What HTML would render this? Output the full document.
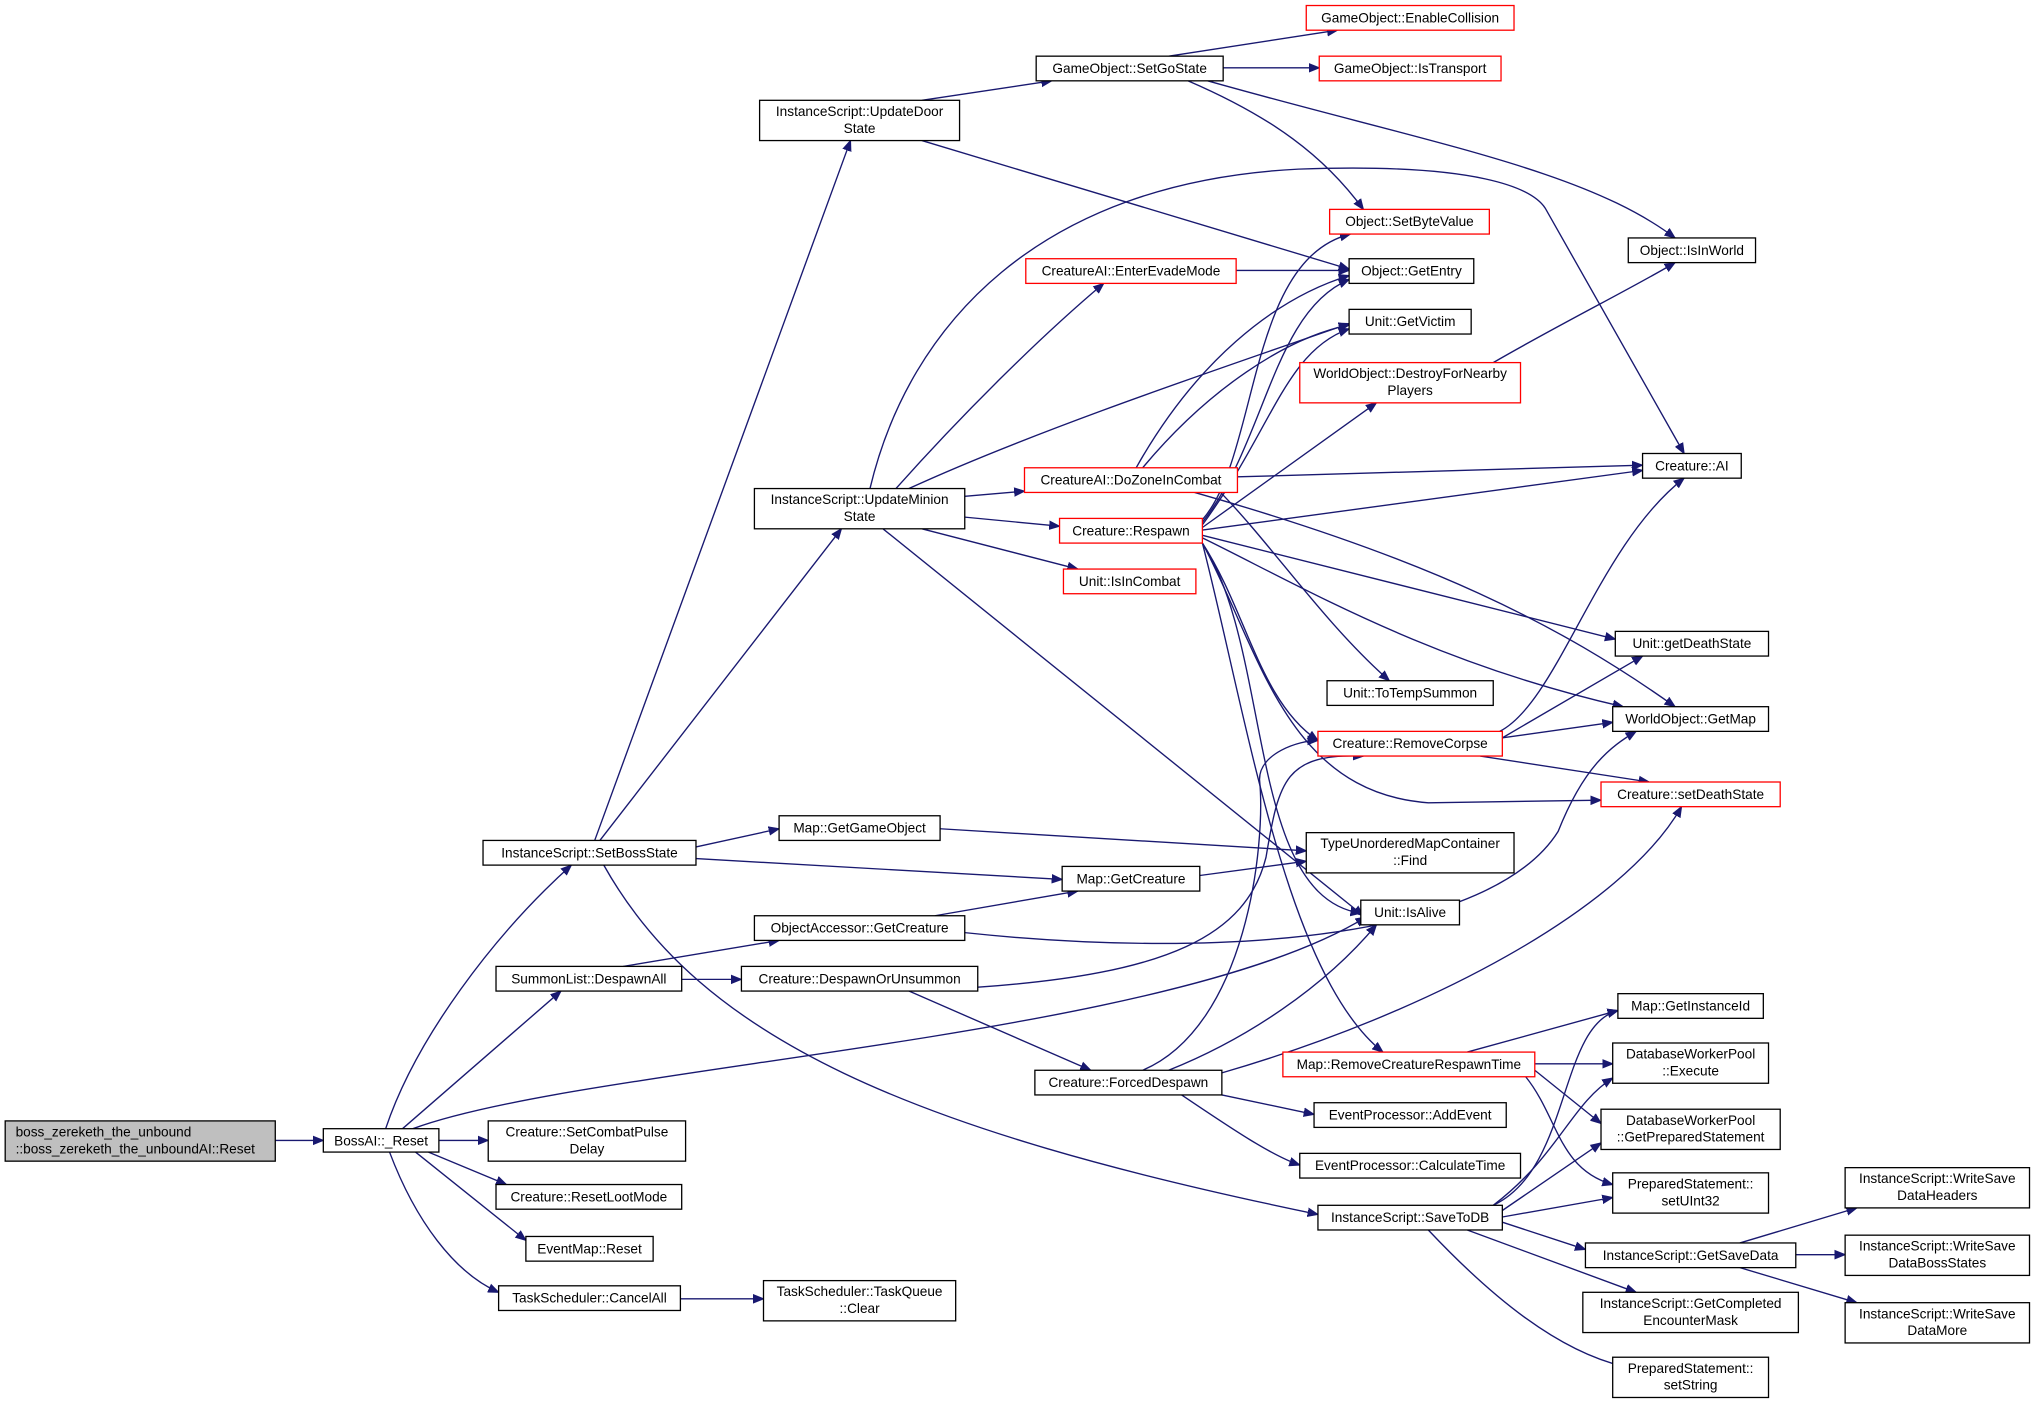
<!DOCTYPE html>
<html><head><meta charset="utf-8"><style>
html,body{margin:0;padding:0;background:#fff}
svg{display:block}
text{font-family:"Liberation Sans","DejaVu Sans",sans-serif;font-size:10.5px;fill:#000}
.n{fill:#fff;stroke:#000;stroke-width:1}
.r{fill:#fff;stroke:#ff0000;stroke-width:1}
.g{fill:#bfbfbf;stroke:#000;stroke-width:1}
path{fill:none;stroke:#191970;stroke-width:1.05;marker-end:url(#a)}
</style></head><body>
<svg width="2036" height="1403" viewBox="0 0 1568 1080" xmlns="http://www.w3.org/2000/svg">
<defs><marker id="a" viewBox="0 0 10 10" refX="10" refY="5" markerWidth="8" markerHeight="8" orient="auto" markerUnits="userSpaceOnUse"><path d="M0,1 L10,5 L0,9 z" style="fill:#191970;stroke:#191970;marker-end:none"/></marker></defs>
<g>
<path d="M212,878 L249,878"/>
<path d="M297,869 C320,800 380,720 440,666"/>
<path d="M310,869 L432,763"/>
<path d="M338,878 L376,878"/>
<path d="M330,887 L390,912"/>
<path d="M320,887 L405,955"/>
<path d="M300,887 C320,940 350,980 384,995"/>
<path d="M318,869 C450,820 900,800 1052,706"/>
<path d="M524,1000 L588,1000"/>
<path d="M458,647 L655,108"/>
<path d="M462,647 L648,407"/>
<path d="M536,652 L600,638"/>
<path d="M536,661 L818,677"/>
<path d="M465,666 C540,800 700,870 1015,935"/>
<path d="M480,744 L600,724"/>
<path d="M525,754 L571,754"/>
<path d="M710,77 L810,62"/>
<path d="M710,108 L1039,207"/>
<path d="M900,43 L1030,23"/>
<path d="M942,52 L1016,52"/>
<path d="M915,62 C980,90 1020,120 1050,161"/>
<path d="M930,62 C1100,110 1220,130 1290,183"/>
<path d="M670,376 C700,250 800,140 1000,130 C1140,125 1180,145 1190,160 L1297,349"/>
<path d="M690,376 C740,320 800,260 850,218"/>
<path d="M700,376 C800,330 950,280 1039,249"/>
<path d="M743,382 L789,378"/>
<path d="M743,398 L816,405"/>
<path d="M710,407 L830,438"/>
<path d="M680,407 L1050,705"/>
<path d="M952,208 L1039,208"/>
<path d="M875,360 C920,280 980,230 1039,212"/>
<path d="M880,360 C930,300 990,260 1039,250"/>
<path d="M953,367 L1265,358"/>
<path d="M940,379 C980,420 1020,480 1070,524"/>
<path d="M920,379 C1100,430 1200,480 1290,544"/>
<path d="M926,400 C970,350 960,200 1040,180"/>
<path d="M926,402 C975,340 980,240 1039,215"/>
<path d="M926,404 C980,330 990,270 1039,253"/>
<path d="M926,406 L1060,310"/>
<path d="M926,408 L1265,362"/>
<path d="M926,412 L1244,492"/>
<path d="M926,414 C1000,450 1100,510 1250,544"/>
<path d="M926,418 C960,470 970,540 1015,570"/>
<path d="M926,418 C970,500 990,610 1100,618 L1233,616"/>
<path d="M926,418 C980,500 960,690 1048,703"/>
<path d="M926,418 C960,550 990,750 1065,810"/>
<path d="M1150,279 C1200,250 1260,220 1290,202"/>
<path d="M1155,563 C1200,540 1230,420 1297,368"/>
<path d="M1157,568 L1265,505"/>
<path d="M1157,568 L1242,556"/>
<path d="M1140,582 L1270,602"/>
<path d="M724,638 L1006,655"/>
<path d="M924,674 L1006,663"/>
<path d="M720,705 L830,686"/>
<path d="M743,718 C950,740 1150,720 1200,640 C1220,590 1240,575 1260,563"/>
<path d="M753,760 C900,750 960,720 975,660 C985,600 990,580 1050,582"/>
<path d="M700,763 L840,824"/>
<path d="M880,824 C960,790 975,650 970,600 C970,580 1000,570 1015,570"/>
<path d="M900,824 C960,800 1020,760 1060,712"/>
<path d="M941,826 C1100,780 1250,700 1295,621"/>
<path d="M941,843 L1012,858"/>
<path d="M910,843 C950,870 980,890 1001,897"/>
<path d="M1130,810 L1246,778"/>
<path d="M1182,819 L1242,819"/>
<path d="M1182,824 L1233,865"/>
<path d="M1175,829 C1200,860 1200,900 1242,912"/>
<path d="M1150,928 C1210,900 1200,790 1246,778"/>
<path d="M1150,928 C1200,890 1210,850 1242,830"/>
<path d="M1157,932 L1233,880"/>
<path d="M1157,937 L1242,922"/>
<path d="M1157,941 L1221,962"/>
<path d="M1130,947 L1260,995"/>
<path d="M1100,947 C1150,1000 1200,1040 1250,1052"/>
<path d="M1340,957 L1430,930"/>
<path d="M1383,966 L1421,966"/>
<path d="M1340,976 L1430,1003"/>
</g>
<g>
<rect class="g" x="4" y="863" width="208" height="31"/><text x="12" y="875">boss_zereketh_the_unbound</text><text x="12" y="888">::boss_zereketh_the_unboundAI::Reset</text>
<rect class="n" x="249" y="869" width="89" height="18"/><text x="293.5" y="882" text-anchor="middle">BossAI::_Reset</text>
<rect class="n" x="372" y="647" width="164" height="19"/><text x="454" y="660" text-anchor="middle">InstanceScript::SetBossState</text>
<rect class="n" x="382" y="744" width="143" height="19"/><text x="453.5" y="757" text-anchor="middle">SummonList::DespawnAll</text>
<rect class="n" x="376" y="863" width="152" height="31"/><text x="452" y="875" text-anchor="middle">Creature::SetCombatPulse</text><text x="452" y="888" text-anchor="middle">Delay</text>
<rect class="n" x="382" y="912" width="143" height="19"/><text x="453.5" y="925" text-anchor="middle">Creature::ResetLootMode</text>
<rect class="n" x="405" y="952" width="98" height="19"/><text x="454" y="965" text-anchor="middle">EventMap::Reset</text>
<rect class="n" x="384" y="990" width="140" height="19"/><text x="454" y="1003" text-anchor="middle">TaskScheduler::CancelAll</text>
<rect class="n" x="588" y="986" width="148" height="31"/><text x="662" y="998" text-anchor="middle">TaskScheduler::TaskQueue</text><text x="662" y="1011" text-anchor="middle">::Clear</text>
<rect class="n" x="585" y="77" width="154" height="31"/><text x="662" y="89" text-anchor="middle">InstanceScript::UpdateDoor</text><text x="662" y="102" text-anchor="middle">State</text>
<rect class="n" x="581" y="376" width="162" height="31"/><text x="662" y="388" text-anchor="middle">InstanceScript::UpdateMinion</text><text x="662" y="401" text-anchor="middle">State</text>
<rect class="n" x="600" y="628" width="124" height="19"/><text x="662" y="641" text-anchor="middle">Map::GetGameObject</text>
<rect class="n" x="581" y="705" width="162" height="19"/><text x="662" y="718" text-anchor="middle">ObjectAccessor::GetCreature</text>
<rect class="n" x="571" y="744" width="182" height="19"/><text x="662" y="757" text-anchor="middle">Creature::DespawnOrUnsummon</text>
<rect class="n" x="798" y="43" width="144" height="19"/><text x="870" y="56" text-anchor="middle">GameObject::SetGoState</text>
<rect class="r" x="1006" y="4" width="160" height="19"/><text x="1086" y="17" text-anchor="middle">GameObject::EnableCollision</text>
<rect class="r" x="1016" y="43" width="140" height="19"/><text x="1086" y="56" text-anchor="middle">GameObject::IsTransport</text>
<rect class="r" x="1024" y="161" width="123" height="19"/><text x="1085.5" y="174" text-anchor="middle">Object::SetByteValue</text>
<rect class="r" x="790" y="199" width="162" height="19"/><text x="871" y="212" text-anchor="middle">CreatureAI::EnterEvadeMode</text>
<rect class="n" x="1039" y="199" width="96" height="19"/><text x="1087" y="212" text-anchor="middle">Object::GetEntry</text>
<rect class="n" x="1039" y="238" width="94" height="19"/><text x="1086" y="251" text-anchor="middle">Unit::GetVictim</text>
<rect class="r" x="1001" y="279" width="170" height="31"/><text x="1086" y="291" text-anchor="middle">WorldObject::DestroyForNearby</text><text x="1086" y="304" text-anchor="middle">Players</text>
<rect class="r" x="789" y="360" width="164" height="19"/><text x="871" y="373" text-anchor="middle">CreatureAI::DoZoneInCombat</text>
<rect class="r" x="816" y="399" width="110" height="19"/><text x="871" y="412" text-anchor="middle">Creature::Respawn</text>
<rect class="r" x="819" y="438" width="102" height="19"/><text x="870" y="451" text-anchor="middle">Unit::IsInCombat</text>
<rect class="n" x="1022" y="524" width="128" height="19"/><text x="1086" y="537" text-anchor="middle">Unit::ToTempSummon</text>
<rect class="r" x="1015" y="563" width="142" height="19"/><text x="1086" y="576" text-anchor="middle">Creature::RemoveCorpse</text>
<rect class="n" x="1006" y="641" width="160" height="31"/><text x="1086" y="653" text-anchor="middle">TypeUnorderedMapContainer</text><text x="1086" y="666" text-anchor="middle">::Find</text>
<rect class="n" x="818" y="667" width="106" height="19"/><text x="871" y="680" text-anchor="middle">Map::GetCreature</text>
<rect class="n" x="1048" y="693" width="76" height="19"/><text x="1086" y="706" text-anchor="middle">Unit::IsAlive</text>
<rect class="n" x="797" y="824" width="144" height="19"/><text x="869" y="837" text-anchor="middle">Creature::ForcedDespawn</text>
<rect class="r" x="988" y="810" width="194" height="19"/><text x="1085" y="823" text-anchor="middle">Map::RemoveCreatureRespawnTime</text>
<rect class="n" x="1012" y="849" width="148" height="19"/><text x="1086" y="862" text-anchor="middle">EventProcessor::AddEvent</text>
<rect class="n" x="1001" y="888" width="170" height="19"/><text x="1086" y="901" text-anchor="middle">EventProcessor::CalculateTime</text>
<rect class="n" x="1015" y="928" width="142" height="19"/><text x="1086" y="941" text-anchor="middle">InstanceScript::SaveToDB</text>
<rect class="n" x="1254" y="183" width="98" height="19"/><text x="1303" y="196" text-anchor="middle">Object::IsInWorld</text>
<rect class="n" x="1265" y="349" width="76" height="19"/><text x="1303" y="362" text-anchor="middle">Creature::AI</text>
<rect class="n" x="1244" y="486" width="118" height="19"/><text x="1303" y="499" text-anchor="middle">Unit::getDeathState</text>
<rect class="n" x="1242" y="544" width="120" height="19"/><text x="1302" y="557" text-anchor="middle">WorldObject::GetMap</text>
<rect class="r" x="1233" y="602" width="138" height="19"/><text x="1302" y="615" text-anchor="middle">Creature::setDeathState</text>
<rect class="n" x="1246" y="765" width="112" height="19"/><text x="1302" y="778" text-anchor="middle">Map::GetInstanceId</text>
<rect class="n" x="1242" y="803" width="120" height="31"/><text x="1302" y="815" text-anchor="middle">DatabaseWorkerPool</text><text x="1302" y="828" text-anchor="middle">::Execute</text>
<rect class="n" x="1233" y="854" width="138" height="31"/><text x="1302" y="866" text-anchor="middle">DatabaseWorkerPool</text><text x="1302" y="879" text-anchor="middle">::GetPreparedStatement</text>
<rect class="n" x="1242" y="903" width="120" height="31"/><text x="1302" y="915" text-anchor="middle">PreparedStatement::</text><text x="1302" y="928" text-anchor="middle">setUInt32</text>
<rect class="n" x="1221" y="957" width="162" height="19"/><text x="1302" y="970" text-anchor="middle">InstanceScript::GetSaveData</text>
<rect class="n" x="1219" y="995" width="166" height="31"/><text x="1302" y="1007" text-anchor="middle">InstanceScript::GetCompleted</text><text x="1302" y="1020" text-anchor="middle">EncounterMask</text>
<rect class="n" x="1242" y="1045" width="120" height="31"/><text x="1302" y="1057" text-anchor="middle">PreparedStatement::</text><text x="1302" y="1070" text-anchor="middle">setString</text>
<rect class="n" x="1421" y="899" width="142" height="31"/><text x="1492" y="911" text-anchor="middle">InstanceScript::WriteSave</text><text x="1492" y="924" text-anchor="middle">DataHeaders</text>
<rect class="n" x="1421" y="951" width="142" height="31"/><text x="1492" y="963" text-anchor="middle">InstanceScript::WriteSave</text><text x="1492" y="976" text-anchor="middle">DataBossStates</text>
<rect class="n" x="1421" y="1003" width="142" height="31"/><text x="1492" y="1015" text-anchor="middle">InstanceScript::WriteSave</text><text x="1492" y="1028" text-anchor="middle">DataMore</text>
</g>
</svg>
</body></html>
